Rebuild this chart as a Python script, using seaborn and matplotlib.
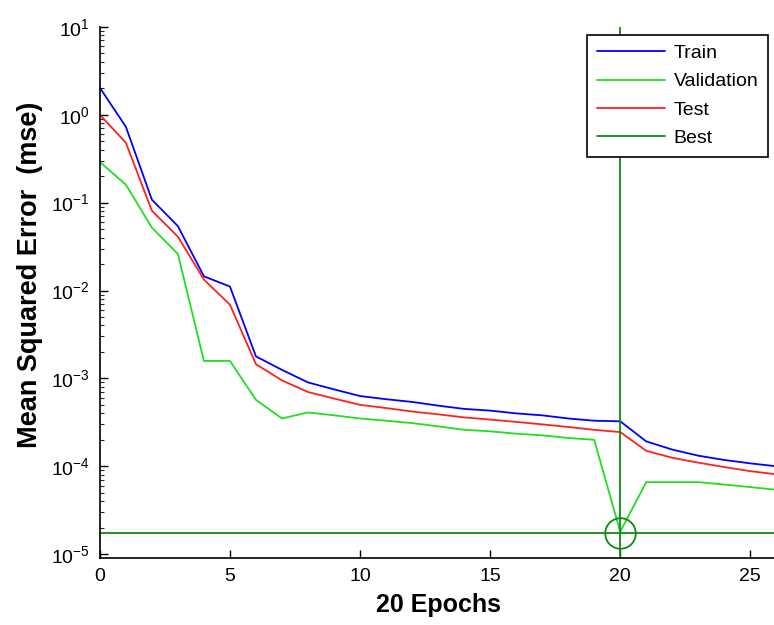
import numpy as np
import pandas as pd
import seaborn as sns
import matplotlib.pyplot as plt

epochs = list(range(27))
train_mse = [2.03, 0.73, 0.108, 0.054, 0.0145, 0.0111, 1.78e-3, 1.25e-3, 9.0e-4, 7.5e-4,
             6.3e-4, 5.8e-4, 5.4e-4, 4.9e-4, 4.5e-4, 4.3e-4, 4.0e-4, 3.8e-4, 3.5e-4, 3.3e-4,
             3.25e-4, 1.92e-4, 1.55e-4, 1.32e-4, 1.18e-4, 1.08e-4, 1.0e-4]
val_mse = [0.29, 0.16, 0.052, 0.026, 1.58e-3, 1.58e-3, 5.7e-4, 3.5e-4, 4.1e-4, 3.8e-4,
           3.5e-4, 3.3e-4, 3.1e-4, 2.85e-4, 2.6e-4, 2.5e-4, 2.35e-4, 2.25e-4, 2.1e-4, 2.0e-4,
           1.8e-5, 6.6e-5, 6.6e-5, 6.6e-5, 6.2e-5, 5.8e-5, 5.4e-5]
test_mse = [1.0, 0.48, 0.081, 0.041, 0.0133, 0.0069, 1.45e-3, 9.5e-4, 7.0e-4, 5.9e-4,
            5.0e-4, 4.6e-4, 4.2e-4, 3.9e-4, 3.6e-4, 3.4e-4, 3.2e-4, 3.0e-4, 2.8e-4, 2.6e-4,
            2.45e-4, 1.5e-4, 1.25e-4, 1.1e-4, 9.8e-5, 8.8e-5, 8.1e-5]
best_epoch = 20
best_mse = 1.75e-5

df = pd.DataFrame({
    'epoch': epochs * 3,
    'mse': train_mse + val_mse + test_mse,
    'split': ['Train'] * 27 + ['Validation'] * 27 + ['Test'] * 27,
})

sns.set_style('white')
plt.rcParams['font.family'] = ['Liberation Sans', 'DejaVu Sans']
plt.rcParams['mathtext.fontset'] = 'custom'
plt.rcParams['mathtext.rm'] = 'Liberation Sans'
plt.rcParams['text.color'] = 'black'
plt.rcParams['axes.labelcolor'] = 'black'

fig = plt.figure(figsize=(7.74, 6.25), dpi=100)
ax = fig.add_axes([0.129, 0.107, 0.874, 0.85])

palette = {'Train': '#0000ff', 'Validation': '#22dd22', 'Test': '#ff2020'}
sns.lineplot(data=df, x='epoch', y='mse', hue='split', palette=palette,
             linewidth=1.3, ax=ax)

best_color = '#118811'
ax.axvline(best_epoch, color=best_color, linewidth=1.3, label='Best')
ax.axhline(best_mse, color=best_color, linewidth=1.3)
ax.plot([best_epoch], [best_mse], 'o', markersize=22, markerfacecolor='none',
        markeredgecolor=best_color, markeredgewidth=1.3, clip_on=False)

ax.set_yscale('log')
ax.set_xlim(0, 26)
ax.set_ylim(10 ** -5.045, 10)
ax.set_xticks([0, 5, 10, 15, 20, 25])
ax.set_yticks([1e-5, 1e-4, 1e-3, 1e-2, 1e-1, 1, 10])

for s in ['top', 'right']:
    ax.spines[s].set_visible(False)
for s in ['left', 'bottom']:
    ax.spines[s].set_color('black')
    ax.spines[s].set_linewidth(1.2)

ax.tick_params(axis='both', which='major', direction='in', length=6, width=1,
               labelsize=14, colors='black', left=True, bottom=True)
ax.tick_params(axis='x', pad=7)
ax.tick_params(axis='y', pad=7)
ax.tick_params(axis='y', which='minor', direction='in', length=3, width=0.8, left=True)

ax.set_xlabel('20 Epochs', fontsize=18, fontweight='bold', labelpad=6)
ax.set_ylabel('Mean Squared Error  (mse)', fontsize=19.5, fontweight='bold',
              labelpad=6, y=0.533)

leg = ax.legend(loc='upper right', bbox_to_anchor=(0.988, 0.985), borderaxespad=0,
                fontsize=14, frameon=True, fancybox=False, edgecolor='black',
                framealpha=1, handlelength=3.5, handletextpad=0.45, borderpad=0.5,
                labelspacing=0.55)
leg.get_frame().set_linewidth(1.2)

fig.savefig('out.png', dpi=100)
